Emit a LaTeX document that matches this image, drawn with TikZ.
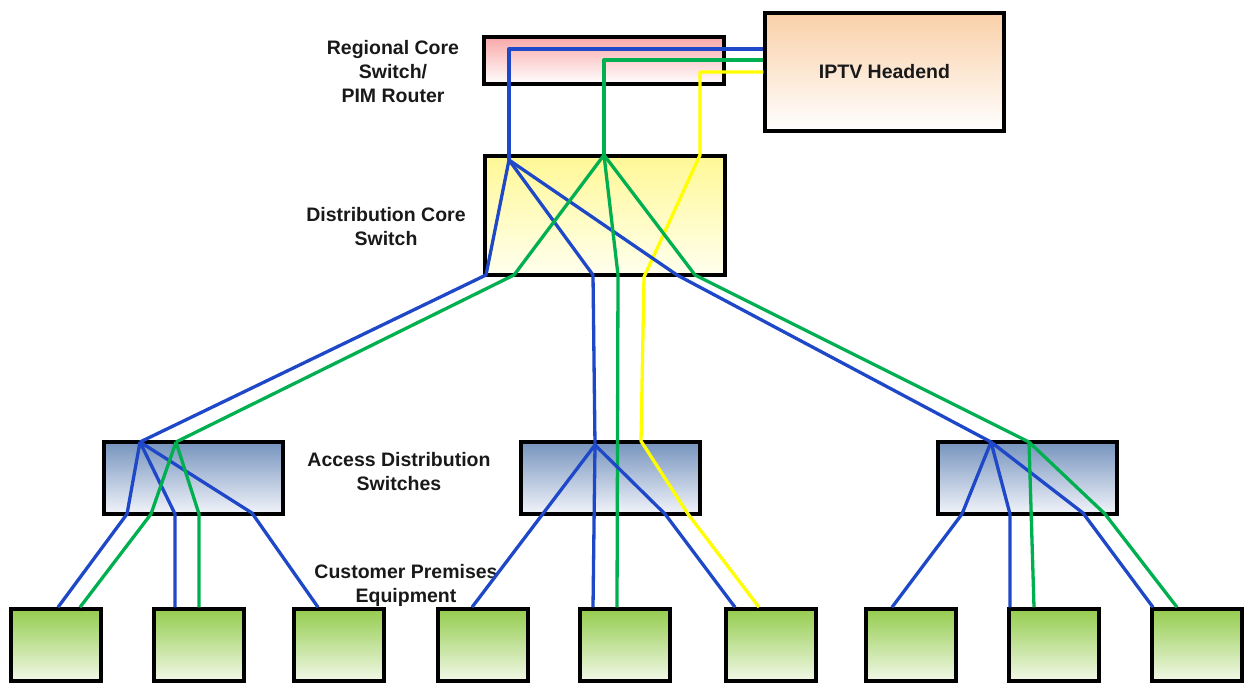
\documentclass[tikz,border=0pt]{standalone}
\usepackage{fontspec}
\setmainfont{Liberation Sans}
\definecolor{blu}{RGB}{30,72,200}
\definecolor{grn}{RGB}{0,176,80}
\definecolor{yel}{RGB}{255,255,0}
\begin{document}
\begin{tikzpicture}[x=1pt,y=-1pt,
  box/.style={draw=black,line width=3.5pt,inner sep=0pt,shading angle=0},
  regbox/.style={box,top color={rgb,255:red,248;green,168;blue,168},bottom color=white,minimum width=240pt,minimum height=47pt},
  hdbox/.style={box,top color={rgb,255:red,250;green,208;blue,168},bottom color=white,minimum width=239pt,minimum height=118pt},
  distbox/.style={box,top color={rgb,255:red,255;green,248;blue,150},bottom color={rgb,255:red,255;green,255;blue,238},minimum width=240pt,minimum height=119pt},
  accbox/.style={box,top color={rgb,255:red,118;green,148;blue,190},bottom color={rgb,255:red,242;green,244;blue,250},minimum width=179pt,minimum height=72pt},
  cpebox/.style={box,top color={rgb,255:red,148;green,204;blue,78},bottom color={rgb,255:red,242;green,248;blue,232},minimum width=90pt,minimum height=72pt},
  lbl/.style={font=\fontsize{19.5}{24}\selectfont\bfseries,align=center,text=black!90},
  wire/.style={line width=3.3pt,line join=round},
  bw/.style={wire,draw=blu},
  gw/.style={wire,draw=grn},
  yw/.style={wire,draw=yel}]
\useasboundingbox (0,0) rectangle (1244,683);
% boxes
\node[regbox] (reg) at (604,60.5) {};
\node[hdbox,lbl] (hd) at (884.5,72) {IPTV Headend};
\node[distbox] (dist) at (605,215.5) {};
\node[accbox] (aL) at (193.5,478) {};
\node[accbox] (aM) at (610.5,478) {};
\node[accbox] (aR) at (1027.5,478) {};
\foreach \i/\x in {1/56,2/199,3/339,4/483,5/625,6/771,7/911,8/1054,9/1197}
  \node[cpebox] (c\i) at (\x,645) {};
% labels
\node[lbl] (lreg) at (393,72) {Regional Core\\Switch/\\PIM Router};
\node[lbl] (ldist) at (386,227) {Distribution Core\\Switch};
\node[lbl] (lacc) at (399,472) {Access Distribution\\Switches};
\node[lbl] (lcpe) at (406,585) {Customer Premises\\Equipment};
% coordinates
\coordinate (bT) at (509,49);
\coordinate (gT) at (604,60);
\coordinate (yT) at (700,72);
\coordinate (bH) at (509,160);
\coordinate (gH) at (604,155);
\coordinate (aLb) at (140,442);
\coordinate (aLg) at (176,442);
\coordinate (aMb) at (595,445);
\coordinate (aRb) at (991,442);
\coordinate (aRg) at (1029,442);
% headend to distribution
\draw[bw] (hd.west |- bT) -- (bT) -- (bH);
\draw[gw] (hd.west |- gT) -- (gT) -- (gH);
\draw[yw] (hd.west) -- (yT) -- (700,155) -- (644,277) -- (641,441) -- (688,514) -- (759,0 |- c6.north);
% distribution to access
\draw[bw] (bH) -- (486,275) -- (aLb);
\draw[bw] (bH) -- (593,275) -- (aMb);
\draw[bw] (bH) -- (677,275) -- (aRb);
\draw[gw] (gH) -- (514,275) -- (aLg);
\draw[gw] (gH) -- (618,275) -- (617,0 |- c5.north);
\draw[gw] (gH) -- (695,275) -- (aRg);
% left access
\draw[bw] (aLb) -- (127,514) -- (58,0 |- c1.north);
\draw[bw] (aLb) -- (175,514) -- (175,0 |- c2.north);
\draw[bw] (aLb) -- (252,513) -- (318,0 |- c3.north);
\draw[gw] (aLg) -- (151,514) -- (80,0 |- c1.north);
\draw[gw] (aLg) -- (199,514) -- (199,0 |- c2.north);
% middle access
\draw[bw] (aMb) -- (472,0 |- c4.north);
\draw[bw] (aMb) -- (593,0 |- c5.north);
\draw[bw] (aMb) -- (665,514) -- (735,0 |- c6.north);
% right access
\draw[bw] (aRb) -- (962,514) -- (892,0 |- c7.north);
\draw[bw] (aRb) -- (1010,514) -- (1010,0 |- c8.north);
\draw[bw] (aRb) -- (1083,513) -- (1153,0 |- c9.north);
\draw[gw] (aRg) -- (1034,0 |- c8.north);
\draw[gw] (aRg) -- (1105,514) -- (1177,0 |- c9.north);
\end{tikzpicture}
\end{document}
